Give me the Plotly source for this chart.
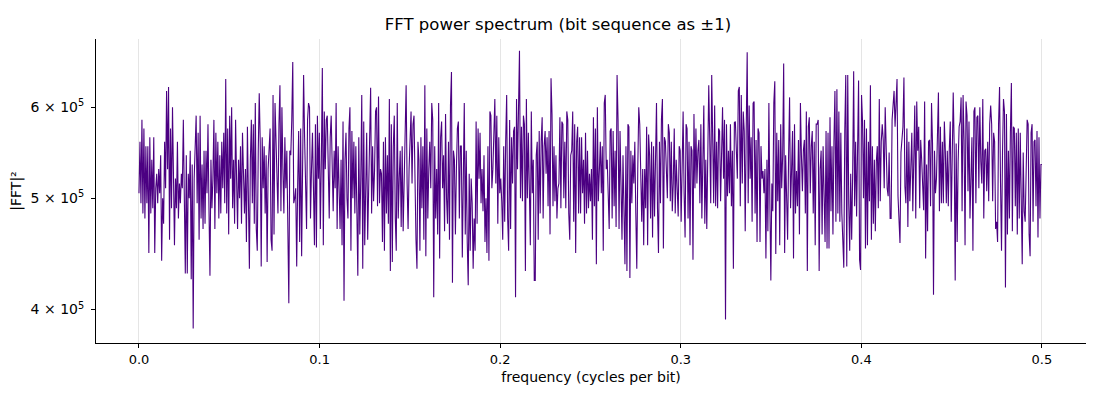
import numpy as np
import plotly.graph_objects as go

# |FFT|^2 values, in units of 1e5 (frequency 0 -> 0.5)
power_a = [5.05, 5.6, 4.95, 5.85, 4.85, 5.75, 4.8, 5.55, 4.95, 5.55,
           4.48, 5.65, 4.85, 5.4, 4.9, 5.65, 4.48, 5.1, 5.25, 4.95,
           5.3, 5.05, 5.45, 4.41, 5.0, 4.75, 5.6, 5.1, 6.2, 5.3,
           6.25, 4.6, 5.75, 4.9, 6.0, 5.1, 4.55, 5.2, 4.9, 5.6,
           4.8, 5.15, 4.95, 5.25, 5.1, 5.85, 4.95, 4.3, 5.45, 4.3,
           5.25, 5.0, 5.5, 4.25, 5.35, 3.85, 5.2, 5.55, 5.9, 4.95,
           5.7, 4.6, 5.9, 4.8, 5.35, 4.7, 5.5, 4.75, 5.5, 5.05,
           5.8, 4.9, 4.28, 5.4, 4.9, 5.2, 5.85, 4.7, 5.7, 5.05,
           5.6, 4.8, 5.45, 4.85, 5.6, 5.1, 5.7, 4.95, 6.35, 4.85,
           5.75, 4.65, 5.9, 5.2, 6.0, 4.9, 5.4, 4.75, 5.85, 5.2,
           4.7, 5.4]
power_b = [5.0, 5.55, 4.75, 5.7, 5.05, 4.85, 5.3, 4.58, 5.77, 5.0,
           4.34, 5.4, 5.85, 4.95, 5.8, 4.75, 6.05, 4.7, 4.5, 5.5,
           6.17, 5.6, 4.36, 5.65, 5.1, 5.55, 4.85, 5.45, 4.4, 5.3,
           5.6, 5.75, 4.6, 4.5, 6.15, 4.65, 6.05, 5.65, 5.05, 4.85,
           5.8, 6.27, 4.87, 6.0, 5.3, 4.85, 5.65, 5.1, 5.5, 4.41,
           4.05, 5.5, 5.45, 5.85, 6.57, 4.95, 5.0, 5.1, 4.36, 5.15,
           5.72, 4.58, 5.75, 4.45, 5.4, 6.4, 5.65, 5.1, 4.7, 5.85,
           6.05, 6.0, 4.8, 5.3, 5.7, 5.1, 4.55, 5.8, 4.53, 5.9,
           5.2, 5.7, 4.7, 5.4, 6.49, 4.55, 5.95, 5.3, 5.85, 5.9,
           5.2, 4.8, 5.65, 5.9, 5.35, 4.87, 5.5, 5.1, 6.05, 4.7]
power_c = [5.55, 5.0, 4.7, 5.4, 4.55, 5.83, 4.07, 5.4, 5.7, 5.0,
           4.8, 5.75, 6.0, 4.5, 5.72, 5.0, 5.6, 4.85, 5.55, 4.9,
           4.28, 5.65, 4.65, 5.2, 6.15, 4.34, 5.83, 4.55, 5.4, 5.7,
           4.6, 5.25, 5.65, 6.24, 4.85, 5.55, 4.97, 5.3, 5.95, 6.0,
           4.92, 6.13, 4.95, 5.3, 5.25, 4.58, 5.6, 4.5, 5.65, 4.85,
           5.45, 4.75, 6.1, 4.32, 5.8, 4.4, 5.55, 5.9, 4.8, 4.5,
           6.05, 4.8, 5.2, 5.5, 4.72, 5.55, 4.68, 5.25, 5.55, 6.27,
           5.15, 4.7, 5.3, 5.6, 5.95, 5.15, 5.8, 5.9, 5.05, 4.6,
           4.34, 5.6, 5.4, 4.5, 5.65, 4.9, 5.55, 4.6, 6.27, 4.45,
           5.75, 4.8, 5.3, 5.6, 5.1, 6.05, 5.85, 4.1, 5.55, 4.8]
power_d = [5.3, 4.65, 6.05, 4.43, 5.65, 5.83, 5.1, 5.45, 4.68, 5.92,
           5.0, 4.75, 5.6, 4.6, 6.02, 6.44, 4.22, 5.5, 5.4, 4.65,
           5.3, 5.75, 5.83, 4.8, 5.55, 5.55, 4.44, 5.5, 6.05, 4.65,
           5.5, 4.58, 4.2, 5.25, 4.5, 5.2, 4.95, 4.34, 4.8, 4.5,
           5.83, 4.75, 5.75, 5.2, 5.7, 4.95, 5.3, 4.87, 5.45, 4.58,
           5.0, 4.48, 5.55, 4.41, 5.95, 5.9, 5.1, 5.3, 5.85, 6.1,
           5.15, 5.9, 4.75, 5.65, 5.05, 5.2, 4.97, 4.6, 5.55, 4.77,
           5.6, 6.15, 4.8, 4.5, 5.85, 4.7, 5.65, 5.15, 5.72, 5.77,
           4.1, 6.1, 5.3, 6.0, 6.72, 5.0, 5.77, 4.97, 5.9, 5.8,
           4.32, 6.1, 5.0, 5.7, 5.0, 4.55, 5.95, 5.05, 5.4, 4.24]
power_e = [4.24, 5.45, 5.6, 4.6, 5.72, 4.85, 5.6, 5.88, 4.8, 5.55,
           5.72, 5.25, 5.65, 4.92, 5.72, 4.65, 6.36, 5.92, 4.92, 5.55,
           4.97, 5.45, 4.8, 5.1, 5.15, 5.88, 4.9, 5.83, 5.8, 5.0,
           5.6, 4.9, 5.95, 5.85, 4.85, 4.6, 5.45, 5.5, 5.95, 4.77,
           5.8, 4.48, 5.6, 5.77, 4.85, 5.65, 4.85, 5.65, 5.05, 5.4,
           4.75, 5.7, 4.85, 5.5, 4.9, 5.25, 4.97, 5.3, 4.6, 5.88,
           4.92, 5.75, 4.38, 6.0, 4.97, 5.2, 5.6, 5.05, 5.55, 4.5,
           6.05, 6.15, 5.3, 5.4, 5.05, 4.7, 5.72, 5.75, 4.8, 5.72,
           4.92, 5.5, 4.72, 6.4, 5.85, 4.7, 5.72, 4.9, 4.6, 5.45,
           4.58, 4.38, 5.55, 4.32, 5.8, 5.77, 4.26, 5.5, 4.95, 5.45,
           5.15]
power_f = [5.6, 4.85, 4.34, 5.3, 6.0, 5.8, 5.0, 4.77, 5.3, 4.55,
           5.3, 4.9, 5.77, 4.55, 5.68, 5.45, 4.8, 5.6, 4.62, 5.55,
           4.82, 5.55, 6.05, 4.9, 4.48, 5.6, 4.95, 5.85, 6.1, 4.52,
           5.65, 5.6, 5.12, 5.0, 5.8, 5.7, 4.97, 5.6, 4.87, 5.15,
           5.75, 4.85, 5.4, 4.95, 4.82, 5.55, 5.5, 4.77, 5.62, 5.95,
           5.05, 4.62, 5.8, 5.75, 4.8, 5.6, 4.55, 5.55, 5.5, 4.42,
           5.92, 5.1, 5.75, 5.15, 5.5, 5.62, 4.95, 5.8, 4.8, 5.4,
           6.02, 4.75, 5.4, 4.7, 5.25, 6.27, 5.62, 4.95, 6.4, 5.65,
           4.95, 6.02, 4.92, 5.6, 4.9, 5.75, 5.72, 4.97, 5.75, 6.0,
           5.2, 5.85, 3.92, 5.8, 5.02, 5.5, 5.05, 5.8, 4.92, 5.5,
           4.34, 5.82]
power_g = [5.83, 5.55, 5.2, 6.2, 6.25, 4.92, 6.15, 5.15, 5.95, 5.72,
           4.68, 5.72, 6.7, 4.95, 6.02, 5.2, 5.65, 4.77, 6.05, 6.07,
           4.85, 5.62, 4.58, 5.75, 5.7, 4.58, 5.55, 5.2, 5.28, 5.05,
           5.3, 4.43, 5.4, 4.68, 6.05, 4.95, 4.24, 5.15, 4.87, 6.05,
           6.32, 4.47, 5.7, 4.97, 5.62, 4.55, 5.8, 5.1, 5.45, 6.55,
           4.48, 5.45, 4.85, 4.6, 5.45, 6.12, 4.9, 5.38, 5.72, 4.43,
           5.8, 4.85, 5.28, 4.92, 5.62, 4.65, 6.05, 5.45, 5.07, 5.5,
           5.62, 4.85, 5.95, 4.32, 5.77, 5.88, 5.05, 5.55, 5.72, 4.85,
           5.6, 4.55, 5.8, 5.8, 5.85, 4.32, 5.3, 5.5, 4.65, 5.55,
           4.87, 4.58, 5.72, 4.52, 5.7, 4.52, 5.88, 4.87, 5.55, 4.65,
           5.6, 6.2, 4.77]
power_h = [6.22, 4.85, 5.95, 4.77, 5.7, 4.85, 4.48, 4.35, 5.72, 6.4,
           4.36, 6.4, 4.95, 4.5, 5.25, 4.6, 5.25, 6.45, 4.92, 5.6,
           4.82, 5.62, 6.33, 4.42, 4.33, 6.15, 5.83, 5.0, 5.85, 4.52,
           5.75, 4.55, 5.6, 4.97, 6.27, 4.6, 5.55, 4.75, 5.4, 4.68,
           5.38, 5.55, 4.9, 6.1, 4.97, 5.6, 5.8, 5.62, 5.1, 6.0,
           5.6, 5.1, 5.02, 5.48, 4.8, 4.8, 5.85, 6.12, 6.2, 5.77,
           6.1, 6.35, 5.02, 4.68, 4.57, 5.48, 5.7, 5.77, 6.37, 5.12,
           4.95, 5.75, 4.72, 5.6, 4.97, 5.5, 5.7, 4.87, 5.72, 6.02,
           4.8, 6.07, 5.5, 5.77, 4.9, 5.62, 5.4, 5.02, 4.88, 6.07,
           4.43, 5.35, 4.68, 5.6, 5.62, 4.92, 6.05, 5.58, 4.12, 5.5,
           5.05]
power_i = [5.2, 5.88, 6.18, 4.87, 5.77, 4.95, 5.6, 4.95, 5.83, 5.5,
           4.95, 5.5, 4.92, 5.5, 5.83, 4.77, 5.4, 6.18, 5.55, 4.24,
           5.58, 4.58, 5.38, 5.77, 5.83, 6.12, 4.87, 6.15, 5.62, 4.55,
           6.07, 5.9, 5.07, 5.83, 4.8, 5.4, 5.65, 4.5, 5.95, 6.0,
           4.95, 5.88, 5.9, 5.1, 6.0, 5.38, 5.15, 6.1, 4.8, 5.5,
           5.52, 5.07, 5.6, 4.97, 5.8, 6.02, 5.8, 4.97, 5.7, 5.6,
           4.7, 4.77, 4.58, 5.8, 6.25, 5.15, 4.5, 5.48, 6.1, 5.95,
           4.18, 5.92, 4.65, 5.5, 4.8, 5.7, 6.3, 4.68, 5.77, 5.75,
           4.92, 5.7, 4.65, 5.75, 4.8, 5.7, 4.87, 4.38, 5.48, 4.87,
           4.77, 5.5, 5.85, 5.8, 4.65, 4.45, 5.7, 5.8, 4.77, 5.6,
           5.62, 4.92, 5.72, 4.62, 5.65, 4.8, 5.35, 5.35]

power = np.array(power_a + power_b + power_c + power_d + power_e
                 + power_f + power_g + power_h + power_i) * 1e5
freq = np.linspace(0, 0.5, len(power))  # rfft bins, cycles per bit

ytick_vals = [4e5, 5e5, 6e5]
ytick_text = ["4 × 10<sup>5</sup>", "5 × 10<sup>5</sup>", "6 × 10<sup>5</sup>"]
xtick_vals = [0.0, 0.1, 0.2, 0.3, 0.4, 0.5]

fig = go.Figure()
fig.add_trace(go.Scatter(x=freq, y=power, mode="lines",
                         line=dict(color="#4b0082", width=1.1),
                         showlegend=False))

# page body adds ~7px offset, so margins are shifted to compensate
fig.update_layout(
    width=1100, height=400,
    plot_bgcolor="white", paper_bgcolor="white",
    font=dict(family="DejaVu Sans", size=13, color="black"),
    margin=dict(l=88, r=22, t=31, b=65),
    title=dict(text="FFT power spectrum (bit sequence as ±1)",
               x=0.5, xanchor="center", y=0.96, yanchor="middle",
               font=dict(size=16.5)),
)
fig.update_xaxes(
    range=[-0.0238, 0.5244], tickvals=xtick_vals, automargin=False,
    tickformat=".1f", showgrid=True, gridcolor="#e5e5e5", gridwidth=1,
    showline=True, linecolor="black", linewidth=1, zeroline=False,
    ticks="outside", ticklen=4, tickcolor="black", tickfont=dict(size=13),
    title=dict(text="frequency (cycles per bit)", standoff=6,
               font=dict(size=14)),
)
fig.update_yaxes(
    type="log", range=[np.log10(3.74e5), np.log10(6.88e5)], automargin=False,
    tickvals=ytick_vals, ticktext=ytick_text, ticklabelstandoff=4,
    showgrid=False, showline=True, linecolor="black", linewidth=1,
    zeroline=False, ticks="outside", ticklen=4, tickcolor="black",
    tickfont=dict(size=14),
    title=dict(text="|FFT|²", standoff=6, font=dict(size=14)),
)

fig.write_html("out.html")
